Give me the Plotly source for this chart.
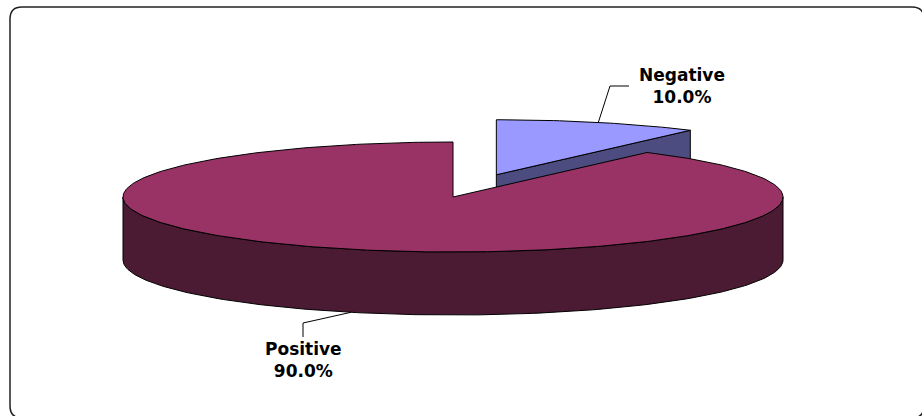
import math
import plotly.graph_objects as go

# Test result shares
labels = ["Negative", "Positive"]
values = [10.0, 90.0]
top_colors = ["#9999FF", "#993366"]
side_colors = ["#4C4C80", "#4B1A33"]
explode = [0.425, 0.0]

# Pie geometry in pixel units (the axes are mapped 1:1 to the page)
W, H = 922, 416
CX, CY = 453.0, 197.0      # centre of the top face
RX, RY = 330.0, 55.0       # ellipse radii of the tilted disc
DEPTH = 63.0               # thickness of the disc

total = sum(values)


def rim(theta_deg, cx, cy, drop=0.0):
    t = math.radians(theta_deg)
    return cx + RX * math.sin(t), cy - RY * math.cos(t) + drop


def arc(a0, a1, cx, cy, drop=0.0, n=120):
    steps = max(2, int(abs(a1 - a0) / 360 * n * 3))
    pts = [rim(a0 + (a1 - a0) * i / steps, cx, cy, drop) for i in range(steps + 1)]
    return [p[0] for p in pts], [p[1] for p in pts]


fig = go.Figure()


def poly(xs, ys, color):
    fig.add_trace(go.Scatter(
        x=xs + [xs[0]], y=ys + [ys[0]], mode="lines", fill="toself",
        fillcolor=color, line=dict(color="#000000", width=1),
        hoverinfo="skip", showlegend=False))


slices = []
start = 0.0
for lab, val, tc, sc, ex in zip(labels, values, top_colors, side_colors, explode):
    span = val / total * 360.0
    mid = start + span / 2
    t = math.radians(mid)
    cx = CX + ex * RX * math.sin(t)
    cy = CY - ex * RY * math.cos(t)
    slices.append(dict(label=lab, value=val, a0=start, a1=start + span, mid=mid,
                       cx=cx, cy=cy, top=tc, side=sc))
    start += span

# back slices first, so the large front slice overlaps them
for s in slices:
    a0, a1, cx, cy = s["a0"], s["a1"], s["cx"], s["cy"]
    # radial cut faces that turn toward the viewer
    for ang, sign in ((a0, -1), (a1, 1)):
        if sign * math.sin(math.radians(ang)) > 1e-6:
            px, py = rim(ang, cx, cy)
            poly([cx, px, px, cx], [cy, py, py + DEPTH, cy + DEPTH], s["side"])
    # front part of the outer wall
    w0, w1 = max(a0, 90.0), min(a1, 270.0)
    if w1 > w0:
        tx, ty = arc(w0, w1, cx, cy)
        bx, by = arc(w1, w0, cx, cy, DEPTH)
        poly(tx + bx, ty + by, s["side"])
    # top face
    ax_, ay_ = arc(a0, a1, cx, cy)
    poly([cx] + ax_, [cy] + ay_, s["top"])

# labels with leader lines
label_pos = {
    "Negative": dict(elbow=(610, 86), end=(629, 86), text=(681.5, 86)),
    "Positive": dict(elbow=(303, 323), end=(303, 337), text=(303, 360)),
}
font = dict(family="DejaVu Sans", size=17, color="#000000", weight="bold")
for s in slices:
    lp = label_pos[s["label"]]
    m = s["mid"]
    front = 90.0 < m < 270.0
    ax0, ay0 = rim(m, s["cx"], s["cy"], DEPTH if front else 0.0)
    fig.add_trace(go.Scatter(
        x=[ax0, lp["elbow"][0], lp["end"][0]], y=[ay0, lp["elbow"][1], lp["end"][1]],
        mode="lines", line=dict(color="#000000", width=1),
        hoverinfo="skip", showlegend=False))
    pct = f"{s['value'] / total * 100:.1f}%"
    fig.add_annotation(x=lp["text"][0], y=lp["text"][1], text=f"{s['label']}<br>{pct}",
                       showarrow=False, font=font, align="center",
                       xanchor="center", yanchor="middle")

# rounded chart-area border
x0, y0, x1, y1, r = 10, 7, 924, 418, 12
border = (f"M {x0 + r},{y0} L {x1 - r},{y0} Q {x1},{y0} {x1},{y0 + r} "
          f"L {x1},{y1 - r} Q {x1},{y1} {x1 - r},{y1} L {x0 + r},{y1} "
          f"Q {x0},{y1} {x0},{y1 - r} L {x0},{y0 + r} Q {x0},{y0} {x0 + r},{y0} Z")
fig.add_shape(type="path", path=border, xref="x", yref="y",
              line=dict(color="#222222", width=1.5), layer="below")

fig.update_layout(
    width=W, height=H, margin=dict(l=0, r=0, t=0, b=0),
    paper_bgcolor="#FFFFFF", plot_bgcolor="#FFFFFF",
    xaxis=dict(range=[0, W], visible=False, fixedrange=True),
    yaxis=dict(range=[H, 0], visible=False, fixedrange=True),
    showlegend=False,
)

fig.write_html("out.html", config={"displayModeBar": False})
